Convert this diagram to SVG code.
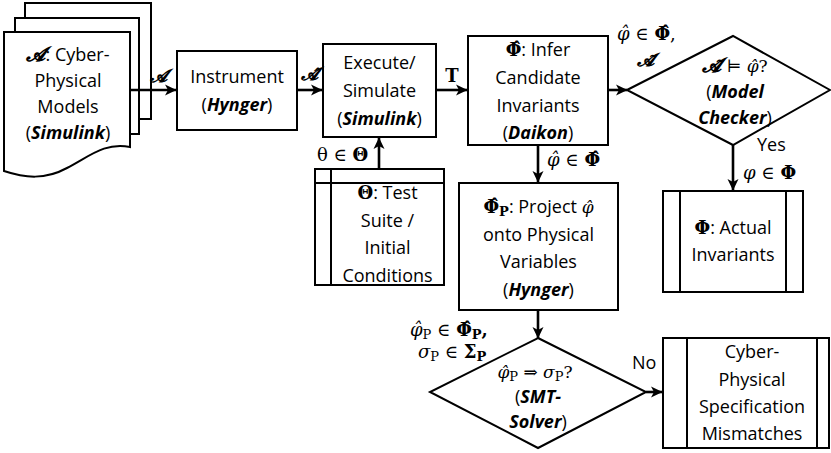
<svg xmlns="http://www.w3.org/2000/svg" width="831" height="453" viewBox="0 0 831 453">
<defs>
<style>
.box{fill:#fff;stroke:#000;stroke-width:2}
.ln{fill:none;stroke:#000;stroke-width:2}
.con{fill:none;stroke:#000;stroke-width:2.6;marker-end:url(#ah)}
.t{font-family:"Open Sans","Liberation Sans",sans-serif;font-size:18px;fill:#000;text-anchor:middle}
.s{font-family:"Open Sans","Liberation Sans",sans-serif;font-size:18px;fill:#000}
.bi{font-weight:bold;font-style:italic}
.m{font-family:"DejaVu Serif","Liberation Serif",serif;font-size:18px;fill:#000}
.mb{font-family:"DejaVu Serif","Liberation Serif",serif;font-weight:bold}
.mr{font-family:"DejaVu Serif","Liberation Serif",serif;font-size:17px}
</style>
<marker id="ah" markerUnits="userSpaceOnUse" markerWidth="12" markerHeight="12" viewBox="0 0 12 12" refX="11" refY="6" orient="auto">
<path d="M0,0.5 L11.5,6 L0,11.5 L3,6 Z" fill="#000"/>
</marker>
</defs>

<g id="models">
<rect class="box" x="25" y="3" width="126" height="116"/>
<rect class="box" x="15" y="18" width="124" height="116"/>
<path class="box" d="M4,32 H130 V147 C105,142 90,156 67,168 C45,180 25,178 4,171 Z"/>
<text class="t" x="68" y="61"><tspan class="mb" font-style="italic" font-size="20">𝓐</tspan>: Cyber-</text>
<text class="t" x="68" y="87">Physical</text>
<text class="t" x="68" y="113">Models</text>
<text class="t" x="68" y="139">(<tspan class="bi">Simulink</tspan>)</text>
</g>

<g id="instrument">
<rect class="box" x="177" y="51" width="120" height="79"/>
<text class="t" x="237" y="83">Instrument</text>
<text class="t" x="237" y="111">(<tspan class="bi">Hynger</tspan>)</text>
</g>

<g id="execute">
<rect class="box" x="323" y="44" width="113" height="93"/>
<text class="t" x="379.5" y="69">Execute/</text>
<text class="t" x="379.5" y="97">Simulate</text>
<text class="t" x="379.5" y="125">(<tspan class="bi">Simulink</tspan>)</text>
</g>

<g id="infer">
<rect class="box" x="468" y="36" width="140" height="109"/>
<text class="t" x="538" y="56"><tspan class="mb">Φ̂</tspan>: Infer</text>
<text class="t" x="538" y="84">Candidate</text>
<text class="t" x="538" y="112">Invariants</text>
<text class="t" x="538" y="139">(<tspan class="bi">Daikon</tspan>)</text>
</g>

<g id="modelchecker">
<polygon class="box" points="627,90 733,36 830,90 733,145"/>
<text class="t" x="735" y="72"><tspan class="mb" font-style="italic" font-size="20">𝓐̃</tspan><tspan class="mr"> ⊨ <tspan font-style="italic">φ̂</tspan>?</tspan></text>
<text class="t" x="735" y="98">(<tspan class="bi">Model</tspan></text>
<text class="t" x="735" y="124"><tspan class="bi">Checker</tspan>)</text>
</g>

<g id="actual">
<rect class="box" x="663" y="191" width="140" height="101"/>
<line class="ln" x1="680" y1="191" x2="680" y2="292"/>
<line class="ln" x1="786" y1="191" x2="786" y2="292"/>
<text class="t" x="733" y="234"><tspan class="mb">Φ</tspan>: Actual</text>
<text class="t" x="733" y="261">Invariants</text>
</g>

<g id="testsuite">
<rect class="box" x="315" y="169" width="129" height="116"/>
<line class="ln" x1="331" y1="169" x2="331" y2="285"/>
<line class="ln" x1="315" y1="183" x2="444" y2="183"/>
<text class="t" x="387.5" y="199"><tspan class="mb">Θ</tspan>: Test</text>
<text class="t" x="387.5" y="227">Suite /</text>
<text class="t" x="387.5" y="254">Initial</text>
<text class="t" x="387.5" y="282">Conditions</text>
</g>

<g id="project">
<rect class="box" x="459" y="183" width="159" height="127"/>
<text class="t" x="538.5" y="213"><tspan class="mb">Φ̂<tspan font-size="13" dy="3">P</tspan></tspan><tspan dy="-3">: Project </tspan><tspan class="mr" font-style="italic">φ̂</tspan></text>
<text class="t" x="538.5" y="241">onto Physical</text>
<text class="t" x="538.5" y="268">Variables</text>
<text class="t" x="538.5" y="296">(<tspan class="bi">Hynger</tspan>)</text>
</g>

<g id="smt">
<polygon class="box" points="538,338 646,392 538,448 430,392"/>
<text class="t" x="535" y="378"><tspan class="mr"><tspan font-style="italic">φ̂</tspan><tspan font-size="13" dy="3">P</tspan><tspan dy="-3"> ⇒ </tspan><tspan font-style="italic">σ</tspan><tspan font-size="13" dy="3">P</tspan><tspan dy="-3">?</tspan></tspan></text>
<text class="t" x="538" y="403">(<tspan class="bi">SMT-</tspan></text>
<text class="t" x="538" y="428"><tspan class="bi">Solver</tspan>)</text>
</g>

<g id="mismatch">
<rect class="box" x="663" y="338" width="166" height="110"/>
<line class="ln" x1="687" y1="338" x2="687" y2="448"/>
<line class="ln" x1="817" y1="338" x2="817" y2="448"/>
<text class="t" x="752" y="358">Cyber-</text>
<text class="t" x="752" y="386">Physical</text>
<text class="t" x="752" y="413">Specification</text>
<text class="t" x="752" y="440">Mismatches</text>
</g>

<g id="connectors">
<line class="con" x1="130" y1="90" x2="176" y2="90"/>
<line class="con" x1="297" y1="90" x2="322" y2="90"/>
<line class="con" x1="436" y1="90" x2="467" y2="90"/>
<line class="con" x1="608" y1="90" x2="627" y2="90"/>
<line class="con" x1="379" y1="169" x2="379" y2="138"/>
<line class="con" x1="538" y1="145" x2="538" y2="182"/>
<line class="con" x1="733" y1="145" x2="733" y2="190"/>
<line class="con" x1="538" y1="310" x2="538" y2="338"/>
<line class="con" x1="646" y1="392" x2="662" y2="392"/>
</g>

<g id="labels">
<text class="m mb" x="158" y="82" text-anchor="middle" font-style="italic" font-size="20">𝓐</text>
<text class="m mb" x="309" y="80" text-anchor="middle" font-style="italic" font-size="20">𝓐̂</text>
<text class="m mb" x="452" y="82" text-anchor="middle">T</text>
<text class="m" x="617" y="40"><tspan font-style="italic">φ̂</tspan> ∈ <tspan class="mb">Φ̂</tspan>,</text>
<text class="m mb" x="645" y="66" text-anchor="middle" font-style="italic" font-size="20">𝓐̃</text>
<text class="s" x="757" y="151">Yes</text>
<text class="m" x="743" y="179"><tspan font-style="italic">φ</tspan> ∈ <tspan class="mb">Φ</tspan></text>
<text class="m" x="317" y="161">θ ∈ <tspan class="mb">Θ</tspan></text>
<text class="m" x="547" y="166"><tspan font-style="italic">φ̂</tspan> ∈ <tspan class="mb">Φ̂</tspan></text>
<text class="m" x="410" y="336"><tspan font-style="italic">φ̂</tspan><tspan font-size="13" dy="3">P</tspan><tspan dy="-3"> ∈ </tspan><tspan class="mb">Φ̂<tspan font-size="13" dy="3">P</tspan><tspan dy="-3">,</tspan></tspan></text>
<text class="m" x="418" y="358"><tspan font-style="italic">σ</tspan><tspan font-size="13" dy="3">P</tspan><tspan dy="-3"> ∈ </tspan><tspan class="mb">Σ<tspan font-size="13" dy="3">P</tspan></tspan></text>
<text class="s" x="632" y="369">No</text>
</g>
</svg>
